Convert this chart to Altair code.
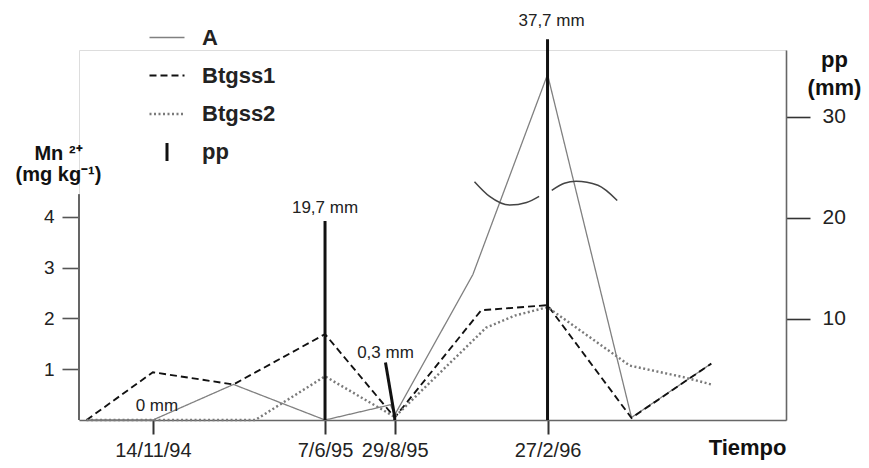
import altair as alt
import pandas as pd

FONT = "Liberation Sans"

# ---------------- data ----------------
series_names = ["A", "Btgss1", "Btgss2"]

dates_A = ["1994-08-27", "1994-11-14", "1995-02-18", "1995-06-07", "1995-08-24",
           "1995-08-29", "1995-11-30", "1996-02-27", "1996-06-06", "1996-09-09"]
mn_A = [0.0, 0.0, 0.70, 0.0, 0.30, 0.10, 2.86, 6.80, 0.05, 1.11]

dates_B1 = ["1994-08-27", "1994-11-14", "1995-02-18", "1995-06-07", "1995-08-29",
            "1995-12-10", "1996-02-27", "1996-06-06", "1996-09-09"]
mn_B1 = [0.0, 0.94, 0.70, 1.69, 0.05, 2.16, 2.26, 0.04, 1.11]

dates_B2 = ["1994-08-27", "1995-03-16", "1995-06-07", "1995-08-29", "1995-12-16",
            "1996-01-20", "1996-02-27", "1996-06-04", "1996-08-08", "1996-09-09"]
mn_B2 = [0.0, 0.0, 0.86, 0.06, 1.82, 2.06, 2.22, 1.07, 0.84, 0.70]

pp_dates = ["1994-11-14", "1995-06-07", "1995-08-29", "1996-02-27"]
pp_mm = [0.0, 19.7, 0.3, 37.7]
pp_labels = ["0 mm", "19,7 mm", "0,3 mm", "37,7 mm"]

tick_dates = [(1994, 11, 14), (1995, 6, 7), (1995, 8, 29), (1996, 2, 27)]
left_ticks = [1, 2, 3, 4]
right_ticks = [10, 20, 30]

# break-mark arcs drawn across the peak (dates, Mn units)
arc1_dates = ["1995-12-02", "1995-12-20", "1996-01-13", "1996-02-02", "1996-02-17"]
arc1_mn = [4.69, 4.40, 4.23, 4.28, 4.40]
arc2_dates = ["1996-03-03", "1996-03-18", "1996-04-01", "1996-04-27", "1996-05-20"]
arc2_mn = [4.52, 4.66, 4.70, 4.62, 4.32]

# leader line for the 0,3 mm label (date, mm) -> (date, mm)
leader = {"date": ["1995-08-18"], "pp": [5.7], "date2": ["1995-08-29"], "pp2": [0.3]}

# ---------------- layout / style ----------------
W, H = 707, 370
LEFT_MAX = 7.283      # Mn scale top (plot area)
LEFT_AXIS_TOP = 4.44  # where the drawn left axis line stops
RIGHT_MAX = 36.63     # pp scale top
label_dy = {"0 mm": -14, "19,7 mm": -13, "37,7 mm": -18}

rows = []
for name, ds, vs in [("A", dates_A, mn_A), ("Btgss1", dates_B1, mn_B1), ("Btgss2", dates_B2, mn_B2)]:
    for d, v in zip(ds, vs):
        rows.append({"date": d, "mn": v, "serie": name})
lines_df = pd.DataFrame(rows)

arc_rows = [{"date": d, "mn": v, "arc": 1} for d, v in zip(arc1_dates, arc1_mn)] + \
           [{"date": d, "mn": v, "arc": 2} for d, v in zip(arc2_dates, arc2_mn)]
arcs_df = pd.DataFrame(arc_rows)

pp_df = pd.DataFrame({"date": pp_dates, "pp": pp_mm, "label": pp_labels})
leader_df = pd.DataFrame(leader)

xscale = alt.Scale(type="utc",
                   domain=[alt.DateTime(year=1994, month=8, date=18, utc=True),
                           alt.DateTime(year=1996, month=12, date=7, utc=True)])
xaxis = alt.Axis(values=[alt.DateTime(year=y, month=m, date=d, utc=True) for y, m, d in tick_dates],
                 labelExpr="utcFormat(datum.value, '%-d/%-m/%y')",
                 domainColor="#666", domainWidth=1.6,
                 tickColor="#333", tickWidth=2, tickSize=14,
                 labelFontSize=20, labelColor="#222", labelPadding=6, labelFont=FONT,
                 grid=False,
                 title="Tiempo", titleFont=FONT, titleFontSize=22, titleFontWeight="bold",
                 titleColor="#111", titleAnchor="end", titleAlign="right",
                 titleX=W, titleY=34, titleBaseline="alphabetic")
X = alt.X("date:T", scale=xscale, axis=xaxis)

yleft_scale = alt.Scale(domain=[0, LEFT_MAX], nice=False, zero=True)
yleft_axis = alt.Axis(values=left_ticks, domain=False, grid=False,
                      tickColor="#555", tickWidth=1.6, tickSize=17,
                      labelFontSize=19, labelColor="#222", labelPadding=8, labelFont=FONT,
                      title=["Mn \u00b2\u207a", "(mg kg\u207b\u00b9)"], titleAngle=0,
                      titleFont=FONT, titleFontSize=20, titleFontWeight="bold", titleColor="#111",
                      titleAlign="center", titleBaseline="alphabetic",
                      titleX=-21, titleY=109, titleLineHeight=21)
Yl = alt.Y("mn:Q", scale=yleft_scale, axis=yleft_axis)

legend_domain = series_names + ["pp"]
leg = alt.Legend(title=None, orient="none", legendX=69, legendY=-31,
                 labelFont=FONT, labelFontSize=22, labelFontWeight="bold", labelColor="#222",
                 symbolType={"expr": "datum.value === 'pp' ? 'M0,-1L0,1' : 'stroke'"},
                 symbolSize={"expr": "datum.value === 'pp' ? 324 : 1225"},
                 labelOffset=16, rowPadding=8)

lines = alt.Chart(lines_df).mark_line().encode(
    x=X, y=Yl,
    color=alt.Color("serie:N", scale=alt.Scale(domain=legend_domain,
                                               range=["#808080", "#111111", "#7a7a7a", "#111111"]),
                    legend=leg),
    strokeDash=alt.StrokeDash("serie:N", scale=alt.Scale(domain=legend_domain,
                                                         range=[[1, 0], [7, 4], [2, 2.5], [1, 0]]),
                              legend=leg),
    strokeWidth=alt.StrokeWidth("serie:N", scale=alt.Scale(domain=legend_domain,
                                                           range=[1.3, 3.0, 1.5, 3.5]),
                                legend=leg),
)

arcs = alt.Chart(arcs_df).mark_line(interpolate="monotone", color="#444", strokeWidth=1.5).encode(
    x=X, y=Yl, detail="arc:N")

left_axis_line = alt.Chart(pp_df).mark_rule(color="#666", strokeWidth=1.6).encode(
    x=alt.value(0), y=alt.datum(0, scale=yleft_scale), y2=alt.datum(LEFT_AXIS_TOP))

left = alt.layer(left_axis_line, lines, arcs)

yright_scale = alt.Scale(domain=[0, RIGHT_MAX], nice=False, zero=True)
yright_axis = alt.Axis(orient="right", values=right_ticks, grid=False,
                       domainColor="#666", domainWidth=1.6,
                       tickColor="#333", tickWidth=1.6, tickSize=24,
                       labelFontSize=21, labelColor="#222", labelPadding=12, labelFont=FONT,
                       title=["pp", "(mm)"], titleAngle=0, titleFont=FONT, titleFontSize=22,
                       titleFontWeight="bold", titleColor="#111", titleAlign="center",
                       titleBaseline="alphabetic", titleX=48, titleY=16, titleLineHeight=28)
Yr = alt.Y("pp:Q", scale=yright_scale, axis=yright_axis)

bars = alt.Chart(pp_df).mark_rule(color="#111", strokeWidth=3).encode(x=X, y=Yr, y2=alt.datum(0))

lead = alt.Chart(leader_df).mark_rule(color="#111", strokeWidth=3).encode(
    x=X, x2="date2:T", y=Yr, y2="pp2:Q")
lead_label = alt.Chart(leader_df).mark_text(font=FONT, fontSize=17, color="#222",
                                            baseline="middle", dy=-9).encode(
    x=X, y=Yr, text=alt.value("0,3 mm"))

label_layers = []
for lab in ["0 mm", "19,7 mm", "37,7 mm"]:
    label_layers.append(
        alt.Chart(pp_df).transform_filter(alt.datum.label == lab)
        .mark_text(font=FONT, fontSize=17, color="#222", baseline="middle", dy=label_dy[lab],
                   dx=4 if lab != "19,7 mm" else 0)
        .encode(x=X, y=Yr, text="label:N"))

right = alt.layer(bars, lead, lead_label, *label_layers)

chart = alt.layer(left, right).resolve_scale(y="independent").properties(
    width=W, height=H,
    autosize=alt.AutoSizeParams(type="none"),
    padding={"left": 71, "top": 42, "right": 75, "bottom": 40},
).configure_view(stroke=None).configure(font=FONT)

chart.save("out.html", embed_options={"renderer": "svg", "actions": False})
